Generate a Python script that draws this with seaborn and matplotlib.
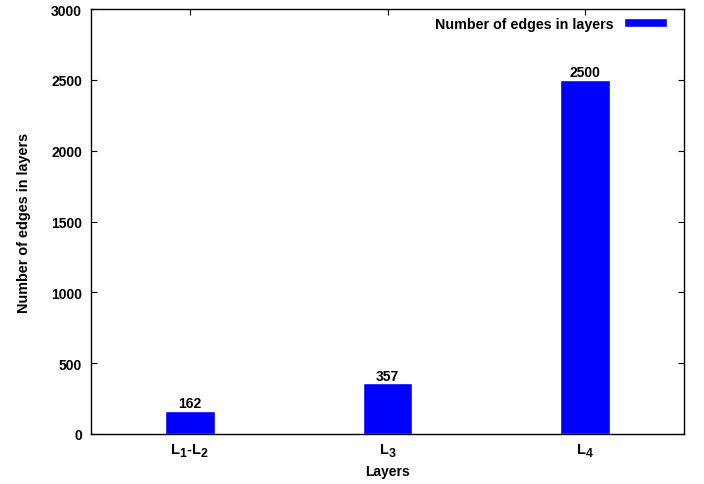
import matplotlib
matplotlib.use("Agg")
import matplotlib.pyplot as plt
import seaborn as sns
import pandas as pd

try:
    import matplotlib._mathtext as _mt
    _mt.SHRINK_FACTOR = 0.85
    _mt.FontConstantsBase.sub1 = 0.45
except Exception:
    pass

categories = ["L$_1$-L$_2$", "L$_3$", "L$_4$"]
values = [162, 357, 2500]
series_name = "Number of edges in layers"

sns.set_style("ticks")
plt.rcParams["font.family"] = ["Liberation Sans", "DejaVu Sans"]
plt.rcParams["font.weight"] = "bold"
plt.rcParams["text.color"] = "black"
plt.rcParams["axes.labelcolor"] = "black"
plt.rcParams["xtick.color"] = "black"
plt.rcParams["ytick.color"] = "black"
plt.rcParams["mathtext.fontset"] = "custom"
plt.rcParams["mathtext.rm"] = "Liberation Sans:bold"
plt.rcParams["mathtext.it"] = "Liberation Sans:bold"
plt.rcParams["mathtext.bf"] = "Liberation Sans:bold"
plt.rcParams["mathtext.default"] = "bf"

df = pd.DataFrame({"cat": categories, "val": values})

fig = plt.figure(figsize=(7.04, 4.85), dpi=100)
ax = fig.add_axes([91/704, 50/485, 593/704, 425/485])

sns.barplot(data=df, x="cat", y="val", color="#0000ff", saturation=1,
            width=0.25, label=series_name, ax=ax)

for i, v in enumerate(values):
    ax.text(i, v + 5, str(v), ha="center", va="bottom",
            fontsize=10, fontweight="bold", color="black")

ax.set_xlim(-0.5, 2.5)
ax.set_ylim(0, 3000)
ax.set_yticks(range(0, 3001, 500))
ax.tick_params(axis="both", direction="in", length=4.3, width=0.8,
               top=True, right=True, labelsize=10, colors="black")
ax.tick_params(axis="y", pad=6.5)
ax.tick_params(axis="x", pad=5, labelsize=10.5)
for lab in ax.get_xticklabels() + ax.get_yticklabels():
    lab.set_fontweight("bold")
    lab.set_color("black")
for s in ax.spines.values():
    s.set_visible(True)
    s.set_linewidth(1.0)
    s.set_color("black")

ax.set_xlabel("Layers", fontsize=10, fontweight="bold", labelpad=4, color="black")
ax.set_ylabel("Number of edges in layers", fontsize=10.4, fontweight="bold",
              labelpad=14.5, color="black")

leg = ax.legend(loc="upper right", frameon=False, markerfirst=False,
                bbox_to_anchor=(576/593, 1 - 8/425), borderaxespad=0,
                borderpad=0, handlelength=3.0, handleheight=0.6,
                fontsize=10.3, handletextpad=0.72)
for t in leg.get_texts():
    t.set_fontweight("bold")
    t.set_color("black")

fig.savefig("out.png", dpi=100)
